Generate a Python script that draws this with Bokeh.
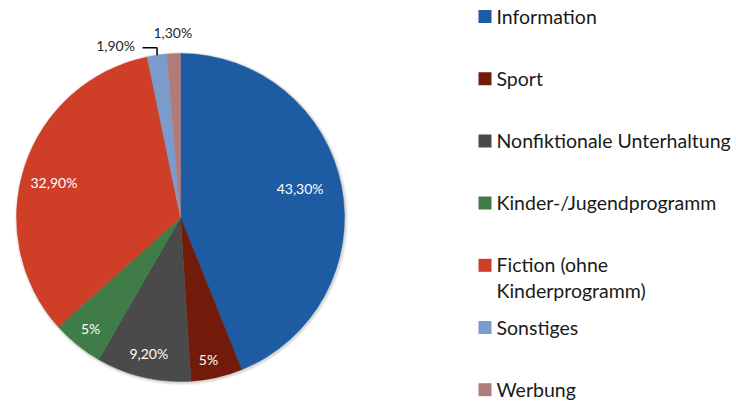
import numpy as np
from bokeh.plotting import figure
from bokeh.models import Range1d, ColumnDataSource
from bokeh.core.properties import value
from bokeh.embed import file_html
from bokeh.resources import INLINE

categories = ["Information", "Sport", "Nonfiktionale Unterhaltung", "Kinder-/Jugendprogramm",
              "Fiction (ohne Kinderprogramm)", "Sonstiges", "Werbung"]
legend_text = ["Information", "Sport", "Nonfiktionale Unterhaltung", "Kinder-/Jugendprogramm",
               "Fiction (ohne\nKinderprogramm)", "Sonstiges", "Werbung"]
values = [43.3, 5.0, 9.2, 5.0, 32.9, 1.9, 1.3]
value_labels = ["43,30%", "5%", "9,20%", "5%", "32,90%", "1,90%", "1,30%"]
colors = ["#1d5ba3", "#731b0b", "#4a4a4a", "#3f7c47", "#cf3e26", "#7b9bcc", "#b07c79"]

# label placement styles (radius fraction, angle tweak in degrees, colour)
label_frac = [0.75, 0.88, 0.85, 0.87, 0.80, 1.12, 1.13]
label_tweak = [2.6, -1.6, 0, 0, 3.0, 12.5, 0]
label_color = ["white"] * 5 + ["#262626", "#262626"]

FONT = "Lato"
W, H = 736, 403
p = figure(width=W, height=H, output_backend="svg", toolbar_location=None,
           x_range=Range1d(0, W), y_range=Range1d(0, H), min_border=0)
p.axis.visible = False
p.grid.visible = False
p.outline_line_color = None
p.background_fill_color = "white"

# data y = H - screen y
cx, cy, r = 180, H - 217, 164
total = sum(values)
cum = np.concatenate([[0], np.cumsum(values)])
starts = np.pi / 2 - 2 * np.pi * cum[:-1] / total
ends = np.pi / 2 - 2 * np.pi * cum[1:] / total
mids = (starts + ends) / 2

# soft shadow
for k, a in [(6, 0.04), (4, 0.05), (2, 0.06)]:
    p.circle(x=[cx + 1], y=[cy - 1], radius=r + k * 0.5, fill_color="black",
             fill_alpha=a, line_color=None)

src = ColumnDataSource(dict(start=starts, end=ends, color=colors, cat=categories))
p.wedge(x=cx, y=cy, radius=r, start_angle="start", end_angle="end", direction="clock",
        fill_color="color", line_color="color", line_width=0.5, source=src)

ang = mids + np.radians(label_tweak)
lx = cx + r * np.array(label_frac) * np.cos(ang)
ly = cy + r * np.array(label_frac) * np.sin(ang)
p.text(x=lx, y=ly, text=value_labels, text_color=label_color,
       text_font=value(FONT), text_font_size="14px", text_align="center",
       text_baseline="middle")

# leader line for Sonstiges
i = 5
ex = cx + r * np.cos(mids[i])
ey = cy + r * np.sin(mids[i])
p.line(x=[lx[i] + 27, ex, ex], y=[ly[i] - 2, ly[i] - 2, ey], line_color="black", line_width=1.5)

# legend
n = len(categories)
ly0 = [H - (16 + 62.2 * k) for k in range(n)]
p.rect(x=[484.5] * n, y=ly0, width=13, height=13, fill_color=colors, line_color=None)
p.text(x=[496] * n, y=ly0, text=legend_text, text_color="#1a1a1a",
       text_font=value(FONT), text_font_size="19.5px", text_align="left",
       text_baseline="top", y_offset=-12, text_line_height=1.1)

open("out.html", "w").write(file_html(p, INLINE))
